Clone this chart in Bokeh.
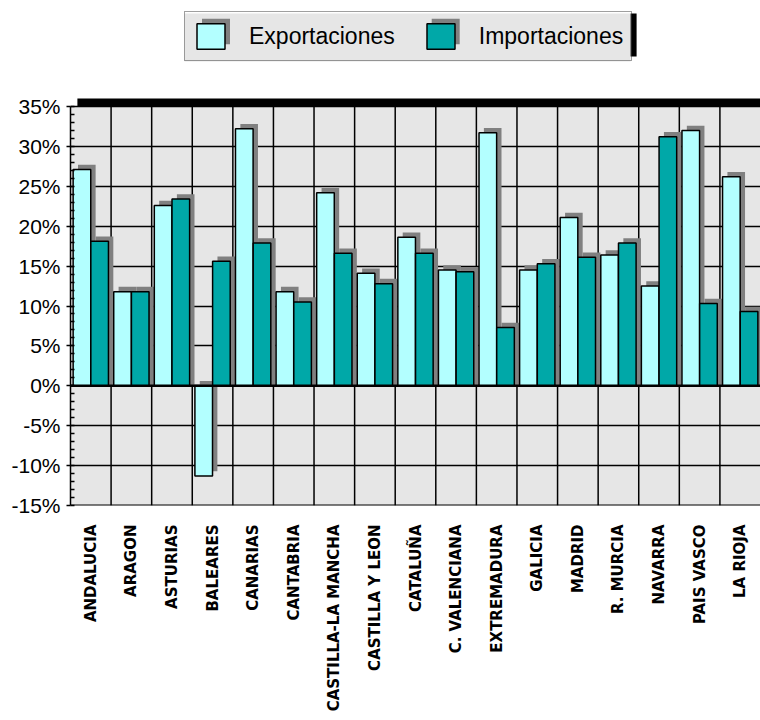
import numpy as np
from bokeh.plotting import figure
from bokeh.models import (ColumnDataSource, Range1d, FixedTicker, SingleIntervalTicker,
                          Legend, LegendItem, Span, BoxAnnotation)
from bokeh.transform import dodge
from bokeh.embed import file_html
from bokeh.resources import INLINE

# ---------------- data ----------------
regions = ["ANDALUCIA", "ARAGON", "ASTURIAS", "BALEARES", "CANARIAS", "CANTABRIA",
           "CASTILLA-LA MANCHA", "CASTILLA Y LEON", "CATALUÑA", "C. VALENCIANA",
           "EXTREMADURA", "GALICIA", "MADRID", "R. MURCIA", "NAVARRA", "PAIS VASCO",
           "LA RIOJA"]
exportaciones = [27.1, 11.8, 22.6, -11.3, 32.2, 11.8, 24.2, 14.1, 18.6, 14.5,
                 31.7, 14.5, 21.1, 16.4, 12.5, 32.0, 26.2]
importaciones = [18.1, 11.8, 23.4, 15.6, 17.9, 10.5, 16.6, 12.8, 16.6, 14.3,
                 7.3, 15.3, 16.1, 17.9, 31.2, 10.3, 9.3]
series_names = ["Exportaciones", "Importaciones"]
y_min, y_max, y_step = -15, 35, 5

# ---------------- styling ----------------
EXP_COLOR = "#B3FFFF"
IMP_COLOR = "#00A8A8"
SHADOW = "#808080"
BG = "#E6E6E6"
BAR_W = 0.434
OFF = 0.218
SH_X = 0.12     # shadow offset in x units
SH_Y = 0.6      # shadow offset in y units
PX_PER_UNIT = 7.98
FRAME_BOTTOM = 505
TOP_EXTRA = (FRAME_BOTTOM - (y_max - y_min) * PX_PER_UNIT) / PX_PER_UNIT  # room above 35%

n = len(regions)
x = list(range(n))
y_ticks = list(range(y_min, y_max + y_step, y_step))

def bar_cols(vals):
    top = [max(v, 0) for v in vals]
    bot = [min(v, 0) for v in vals]
    stop = [t + SH_Y for t in top]
    sbot = [b + SH_Y if v < 0 else 0 for b, v in zip(bot, vals)]
    return top, bot, stop, sbot

et, eb, est, esb = bar_cols(exportaciones)
it, ib, ist, isb = bar_cols(importaciones)

src = ColumnDataSource(dict(x=x, et=et, eb=eb, est=est, esb=esb,
                            it=it, ib=ib, ist=ist, isb=isb))

p = figure(width=760, height=720, output_backend="svg", toolbar_location=None,
           x_range=Range1d(-0.5, n - 0.5), y_range=Range1d(y_min, y_max + TOP_EXTRA),
           min_border_left=70, min_border_right=0, min_border_top=0,
           min_border_bottom=720 - FRAME_BOTTOM)
p.background_fill_color = "white"
p.border_fill_color = "white"
p.outline_line_color = None

# plot-area wall (gray) below everything
p.add_layout(BoxAnnotation(top=y_max, fill_color=BG, fill_alpha=1.0, line_color=None,
                           level="image"))

# grid: horizontal lines at the y ticks, vertical lines between categories (only inside the wall)
p.xgrid.grid_line_color = None
p.ygrid.ticker = FixedTicker(ticks=y_ticks)
p.ygrid.grid_line_color = "black"
p.ygrid.grid_line_width = 1.5
bounds_x = [i + 0.5 for i in range(n - 1)]
p.segment(x0=bounds_x, x1=bounds_x, y0=[y_min] * len(bounds_x), y1=[y_max] * len(bounds_x),
          line_color="black", line_width=1.5, level="underlay")

# shadows
p.vbar(x=dodge("x", -OFF + SH_X), top="est", bottom="esb", width=BAR_W, source=src,
       fill_color=SHADOW, line_color=None)
p.vbar(x=dodge("x", OFF + SH_X), top="ist", bottom="isb", width=BAR_W, source=src,
       fill_color=SHADOW, line_color=None)
# bars
r_exp = p.vbar(x=dodge("x", -OFF), top="et", bottom="eb", width=BAR_W, source=src,
               fill_color=EXP_COLOR, line_color="black", line_width=1.5)
r_imp = p.vbar(x=dodge("x", OFF), top="it", bottom="ib", width=BAR_W, source=src,
               fill_color=IMP_COLOR, line_color="black", line_width=1.5)

# zero line and bottom edge
p.add_layout(Span(location=0, dimension="width", line_color="black", line_width=2.5))
p.add_layout(Span(location=y_min, dimension="width", line_color="black", line_width=2))
# thick black top wall
p.add_layout(BoxAnnotation(bottom=y_max, top=y_max + 1.0, left=-0.5 + 0.17,
                           fill_color="black", fill_alpha=1.0, line_color=None))

# y axis
yax = p.yaxis[0]
yax.ticker = SingleIntervalTicker(interval=y_step, num_minor_ticks=5)
yax.major_label_overrides = {v: f"{v}%" for v in y_ticks}
yax.major_label_text_font = "Liberation Sans"
yax.major_label_text_font_size = "21px"
yax.major_label_text_color = "black"
yax.axis_line_color = "black"
yax.axis_line_width = 1.5
yax.bounds = (y_min, y_max)
yax.major_tick_out = 4
yax.major_tick_in = 0
yax.minor_tick_in = 4
yax.minor_tick_out = 0
yax.major_tick_line_width = 1.5
yax.minor_tick_line_width = 1.5
yax.major_label_standoff = 6

# x axis
xax = p.xaxis[0]
xax.ticker = FixedTicker(ticks=x)
xax.major_label_overrides = {i: name for i, name in enumerate(regions)}
xax.major_label_orientation = np.pi / 2
xax.major_label_text_font = "DejaVu Sans"
xax.major_label_text_font_style = "bold"
xax.major_label_text_font_size = "15px"
xax.major_label_text_color = "black"
xax.axis_line_color = None
xax.major_tick_line_color = None
xax.minor_tick_line_color = None
xax.major_tick_out = 0
xax.major_tick_in = 0
xax.major_label_standoff = 19

# legend geometry (the legend sits inside the extended frame, above the wall)
LEG_X, LEG_Y = 114, 444          # legend anchor relative to the frame
GW, GH, PAD, STANDOFF, SPACING = 35, 32, 8, 21, 28
leg_left = 70 + LEG_X
leg_h = 2 * PAD + GH
leg_top = FRAME_BOTTOM - LEG_Y - leg_h
text_w = [145.7, 144.4]
g0_left = leg_left + PAD
g1_left = g0_left + GW + STANDOFF + text_w[0] + SPACING
leg_right = g1_left + GW + STANDOFF + text_w[1] + PAD

def canvas_box(l, r, t, b, color):
    p.add_layout(BoxAnnotation(left=l, right=r, top=t, bottom=b,
                               left_units="canvas", right_units="canvas",
                               top_units="canvas", bottom_units="canvas",
                               fill_color=color, fill_alpha=1.0, line_color=None))

# legend background, swatch shadows and black drop shadow (drawn beneath the legend)
canvas_box(leg_left, leg_right, leg_top, leg_top + leg_h, BG)
for gl in (g0_left, g1_left):
    sx0, sx1 = gl + 0.1 * GW, gl + 0.9 * GW
    sy0, sy1 = leg_top + PAD + 0.1 * GH, leg_top + PAD + 0.9 * GH
    canvas_box(sx0 + 6, sx1 + 6, sy0 - 6, sy1 - 6, SHADOW)
canvas_box(leg_right, leg_right + 6, leg_top, leg_top + leg_h - 5, "black")

legend = Legend(items=[LegendItem(label=series_names[0], renderers=[r_exp]),
                       LegendItem(label=series_names[1], renderers=[r_imp])],
                location=(LEG_X, LEG_Y), orientation="horizontal")
legend.background_fill_alpha = 0.0
legend.border_line_color = "#404040"
legend.border_line_width = 1.5
legend.label_text_font = "Liberation Sans"
legend.label_text_font_size = "23px"
legend.label_text_color = "black"
legend.glyph_width = GW
legend.glyph_height = GH
legend.label_standoff = STANDOFF
legend.spacing = SPACING
legend.padding = PAD
legend.margin = 0
legend.label_height = 26
p.add_layout(legend, "center")

open("out.html", "w").write(file_html(p, INLINE))
